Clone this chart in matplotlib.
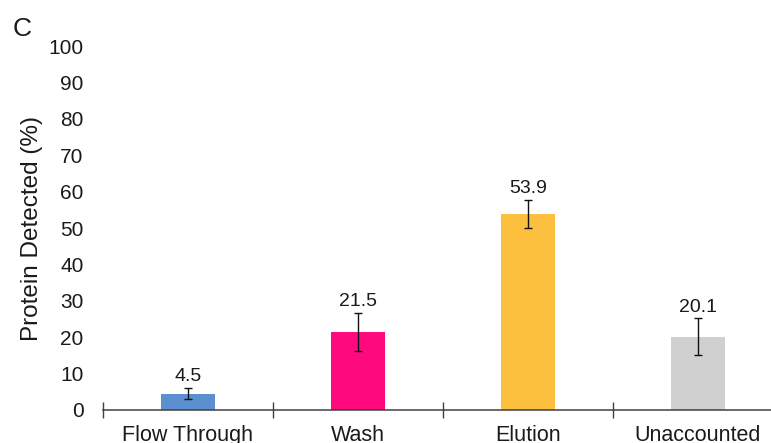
"""
Protein detected per fraction (panel C) — bar chart with error bars.
"""
import numpy as np
import matplotlib
matplotlib.use("Agg")
import matplotlib.pyplot as plt

plt.rcParams["font.family"] = ["Liberation Sans", "DejaVu Sans"]

# ── data ──────────────────────────────────────────────────────────────────────
categories = ["Flow Through", "Wash", "Elution", "Unaccounted"]
values     = [4.5, 21.5, 53.9, 20.1]
errors     = [1.5, 5.2, 3.8, 5.1]
bar_colors = ["#5B8FD0", "#FF0A7E", "#FDBF3E", "#D0D0D0"]
y_ticks    = [0, 10, 20, 30, 40, 50, 60, 70, 80, 90, 100]

AXIS_COL = "#404040"
TEXT_COL = "#1a1a1a"

# ── figure ────────────────────────────────────────────────────────────────────
fig = plt.figure(figsize=(7.71, 4.43), dpi=100)
ax = fig.add_axes([0.1336, 0.0745, 0.8664, 0.8215])

x = np.arange(len(categories))
ax.bar(x, values, width=0.315, color=bar_colors, zorder=2)
ax.errorbar(x, values, yerr=errors, fmt="none", ecolor="#111111",
            elinewidth=1.0, capsize=3.2, capthick=1.0, zorder=3)

# value labels sit just above the error bar
for xi, v, e in zip(x, values, errors):
    ax.annotate(f"{v:.1f}", xy=(xi, v + e), xytext=(0, 2),
                textcoords="offset points", ha="center", va="bottom",
                fontsize=14, color=TEXT_COL)

# ── axes formatting ───────────────────────────────────────────────────────────
ax.set_xlim(-0.5, 3.43)
ax.set_ylim(0, 100)
ax.set_yticks(y_ticks)
ax.set_yticklabels([str(t) for t in y_ticks], fontsize=15, color=TEXT_COL)
ax.tick_params(axis="y", length=0, pad=14)

ax.set_xticks(x)
ax.set_xticklabels(categories, fontsize=15.5, color=TEXT_COL)
ax.set_xticks(np.arange(-0.5, 3.0, 1.0), minor=True)
ax.tick_params(axis="x", which="major", length=0, pad=11)
ax.tick_params(axis="x", which="minor", length=12, width=1.0,
               direction="inout", color=AXIS_COL)

for side in ["top", "right", "left"]:
    ax.spines[side].set_visible(False)
ax.spines["bottom"].set_color(AXIS_COL)
ax.spines["bottom"].set_linewidth(1.1)

ax.set_ylabel("Protein Detected (%)", fontsize=17.5, color=TEXT_COL, labelpad=4)

fig.text(0.016, 0.935, "C", fontsize=19, color=TEXT_COL, ha="left", va="center")

fig.savefig("out.png", dpi=100, facecolor="white")
